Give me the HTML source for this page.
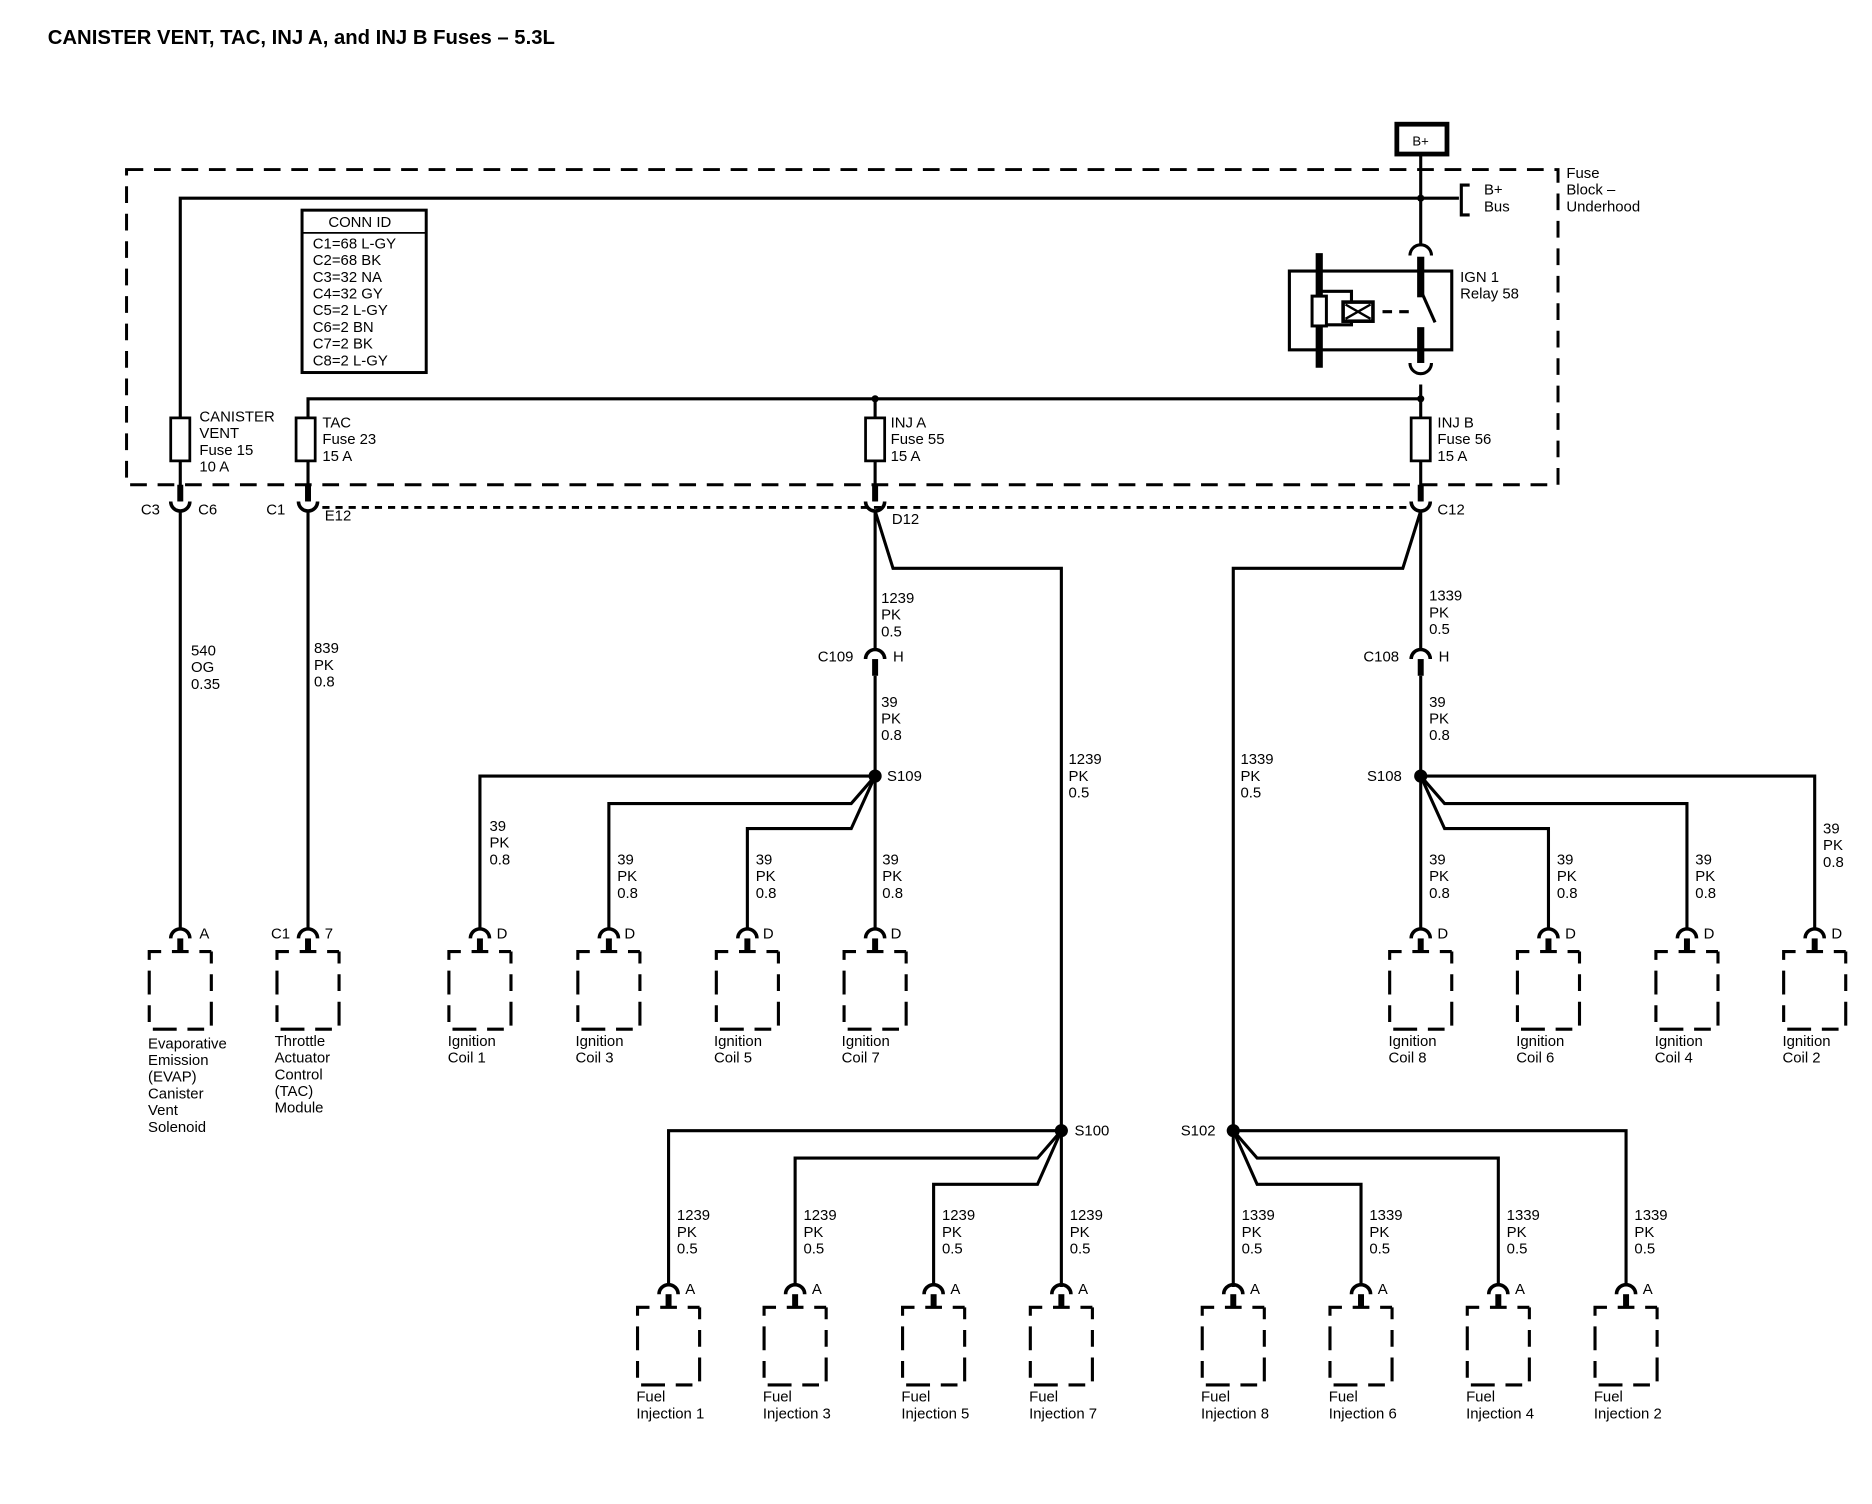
<!DOCTYPE html>
<html><head><meta charset="utf-8"><style>
html,body{margin:0;padding:0;background:#fff;width:1872px;height:1504px;overflow:hidden}
svg{display:block}
text{font-family:"Liberation Sans",sans-serif;font-size:12.5px;fill:#000}
.b{font-weight:bold}
</style></head><body>
<svg width="1872" height="1504" viewBox="0 0 1568 1259.7" xmlns="http://www.w3.org/2000/svg">
<defs>
<g id="mod"><path d="M-8,786 A8,8 0 0 1 8,786" fill="none" stroke="#000" stroke-width="3"/><rect x="-2.5" y="786" width="5" height="11" fill="#000"/><rect x="-26" y="797" width="52" height="65" fill="none" stroke="#000" stroke-width="2.6" stroke-dasharray="10 9 14 9 10 0"/></g>
<g id="cup"><rect x="-2.5" y="406" width="5" height="14" fill="#000"/><path d="M-8,420 A8,8 0 0 0 8,420" fill="none" stroke="#000" stroke-width="3"/></g>
<g id="cap"><path d="M-8,552 A8,8 0 0 1 8,552" fill="none" stroke="#000" stroke-width="3"/><rect x="-2.5" y="552" width="5" height="14" fill="#000"/></g>
</defs>
<text x="40" y="37" class="b" style="font-size:17px">CANISTER VENT, TAC, INJ A, and INJ B Fuses – 5.3L</text>

<rect x="1170" y="104" width="42" height="25" fill="none" stroke="#000" stroke-width="4"/>
<text x="1183" y="122" style="font-size:11px">B+</text>

<rect x="106" y="142" width="1199" height="264" fill="none" stroke="#000" stroke-width="2.5" stroke-dasharray="14 9"/>
<text x="1312" y="149">Fuse</text><text x="1312" y="163">Block –</text><text x="1312" y="177">Underhood</text>

<g stroke="#000" stroke-width="2.6" fill="none">
<path d="M151,420 V166 H1222"/>
<path d="M1231,155 H1224 V180 H1231"/>
<path d="M1190,130 V204"/>
<path d="M1181,214 A9,9 0 0 1 1199,214"/>
<path d="M258,420 V334 H1190"/>
<path d="M1190,322 V420"/>
<path d="M1181,304 A9,9 0 0 0 1199,304"/>
<path d="M733,334 V420"/>
<rect x="1080" y="227" width="136" height="66"/>
<path d="M1105,244 V272 M1105,244 H1132 V272 H1105"/>
<path d="M1158,261 H1166 M1172,261 H1180"/>
<path d="M1190,243 L1202,270"/>
</g>
<rect x="1187" y="215" width="6" height="34" fill="#000"/>
<rect x="1187" y="274" width="6" height="30" fill="#000"/>
<rect x="1102" y="212" width="6" height="96" fill="#000"/>
<rect x="1099" y="248" width="12" height="25" fill="#fff" stroke="#000" stroke-width="2.5"/>
<rect x="1125" y="253" width="25" height="16" fill="#fff" stroke="#000" stroke-width="3"/>
<path d="M1127,255 L1148,267 M1148,255 L1127,267" stroke="#000" stroke-width="2"/>
<circle cx="1190" cy="166" r="3" /><circle cx="1190" cy="334" r="3"/><circle cx="733" cy="334" r="3"/>
<text x="1243" y="163">B+</text><text x="1243" y="177">Bus</text>
<text x="1223" y="236">IGN 1</text><text x="1223" y="250">Relay 58</text>

<rect x="253" y="176" width="104" height="136" fill="none" stroke="#000" stroke-width="2.5"/>
<line x1="253" y1="195" x2="357" y2="195" stroke="#000" stroke-width="1.5"/>
<text x="275" y="190">CONN ID</text>
<text x="262" y="208">C1=68 L-GY</text><text x="262" y="222">C2=68 BK</text><text x="262" y="236">C3=32 NA</text><text x="262" y="250">C4=32 GY</text><text x="262" y="264">C5=2 L-GY</text><text x="262" y="278">C6=2 BN</text><text x="262" y="292">C7=2 BK</text><text x="262" y="306">C8=2 L-GY</text>

<g fill="#fff" stroke="#000" stroke-width="2.3">
<rect x="143" y="350" width="16" height="36"/><rect x="248" y="350" width="16" height="36"/>
<rect x="725" y="350" width="16" height="36"/><rect x="1182" y="350" width="16" height="36"/>
</g>
<text x="167" y="353">CANISTER</text><text x="167" y="367">VENT</text><text x="167" y="381">Fuse 15</text><text x="167" y="395">10 A</text>
<text x="270" y="358">TAC</text><text x="270" y="372">Fuse 23</text><text x="270" y="386">15 A</text>
<text x="746" y="358">INJ A</text><text x="746" y="372">Fuse 55</text><text x="746" y="386">15 A</text>
<text x="1204" y="358">INJ B</text><text x="1204" y="372">Fuse 56</text><text x="1204" y="386">15 A</text>

<line x1="270" y1="425" x2="1180" y2="425" stroke="#000" stroke-width="2.5" stroke-dasharray="6 5"/>
<use href="#cup" x="151"/><use href="#cup" x="258"/><use href="#cup" x="733"/><use href="#cup" x="1190"/>
<text x="118" y="431">C3</text><text x="166" y="431">C6</text>
<text x="223" y="431">C1</text><text x="272" y="436">E12</text>
<text x="747" y="439">D12</text><text x="1204" y="431">C12</text>

<g stroke="#000" stroke-width="2.6" fill="none">
<path d="M151,428 V778"/><path d="M258,428 V778"/>
<path d="M733,428 V544"/><path d="M733,566 V778"/>
<path d="M733,428 L748,476 H889 V1078"/>
<path d="M1190,428 V544"/><path d="M1190,566 V778"/>
<path d="M1190,428 L1175,476 H1033 V1078"/>
<path d="M733,650 H402 V778"/>
<path d="M733,650 L713,673 H510 V778"/>
<path d="M733,650 L713,694 H626 V778"/>
<path d="M1190,650 H1520 V778"/>
<path d="M1190,650 L1210,673 H1413 V778"/>
<path d="M1190,650 L1210,694 H1297 V778"/>
<path d="M889,947 H560 V1076"/>
<path d="M889,947 L869,970 H666 V1076"/>
<path d="M889,947 L869,992 H782 V1076"/>
<path d="M1033,947 H1362 V1076"/>
<path d="M1033,947 L1053,970 H1255 V1076"/>
<path d="M1033,947 L1053,992 H1140 V1076"/>
</g>
<circle cx="733" cy="650" r="5.5"/><circle cx="1190" cy="650" r="5.5"/>
<circle cx="889" cy="947" r="5.5"/><circle cx="1033" cy="947" r="5.5"/>
<text x="743" y="654">S109</text><text x="1145" y="654">S108</text>
<text x="900" y="951">S100</text><text x="989" y="951">S102</text>

<use href="#cap" x="733"/><use href="#cap" x="1190"/>
<text x="685" y="554">C109</text><text x="748" y="554">H</text>
<text x="1142" y="554">C108</text><text x="1205" y="554">H</text>

<text x="160" y="549">540</text><text x="160" y="563">OG</text><text x="160" y="577">0.35</text>
<text x="263" y="547">839</text><text x="263" y="561">PK</text><text x="263" y="575">0.8</text>
<text x="738" y="505">1239</text><text x="738" y="519">PK</text><text x="738" y="533">0.5</text>
<text x="738" y="592">39</text><text x="738" y="606">PK</text><text x="738" y="620">0.8</text>
<text x="1197" y="503">1339</text><text x="1197" y="517">PK</text><text x="1197" y="531">0.5</text>
<text x="1197" y="592">39</text><text x="1197" y="606">PK</text><text x="1197" y="620">0.8</text>
<text x="895" y="640">1239</text><text x="895" y="654">PK</text><text x="895" y="668">0.5</text>
<text x="1039" y="640">1339</text><text x="1039" y="654">PK</text><text x="1039" y="668">0.5</text>
<text x="410" y="696">39</text><text x="410" y="710">PK</text><text x="410" y="724">0.8</text>
<text x="517" y="724">39</text><text x="517" y="738">PK</text><text x="517" y="752">0.8</text>
<text x="633" y="724">39</text><text x="633" y="738">PK</text><text x="633" y="752">0.8</text>
<text x="739" y="724">39</text><text x="739" y="738">PK</text><text x="739" y="752">0.8</text>
<text x="1197" y="724">39</text><text x="1197" y="738">PK</text><text x="1197" y="752">0.8</text>
<text x="1304" y="724">39</text><text x="1304" y="738">PK</text><text x="1304" y="752">0.8</text>
<text x="1420" y="724">39</text><text x="1420" y="738">PK</text><text x="1420" y="752">0.8</text>
<text x="1527" y="698">39</text><text x="1527" y="712">PK</text><text x="1527" y="726">0.8</text>
<text x="567" y="1022">1239</text><text x="567" y="1036">PK</text><text x="567" y="1050">0.5</text>
<text x="673" y="1022">1239</text><text x="673" y="1036">PK</text><text x="673" y="1050">0.5</text>
<text x="789" y="1022">1239</text><text x="789" y="1036">PK</text><text x="789" y="1050">0.5</text>
<text x="896" y="1022">1239</text><text x="896" y="1036">PK</text><text x="896" y="1050">0.5</text>
<text x="1040" y="1022">1339</text><text x="1040" y="1036">PK</text><text x="1040" y="1050">0.5</text>
<text x="1147" y="1022">1339</text><text x="1147" y="1036">PK</text><text x="1147" y="1050">0.5</text>
<text x="1262" y="1022">1339</text><text x="1262" y="1036">PK</text><text x="1262" y="1050">0.5</text>
<text x="1369" y="1022">1339</text><text x="1369" y="1036">PK</text><text x="1369" y="1050">0.5</text>

<use href="#mod" x="151"/><use href="#mod" x="258"/><use href="#mod" x="402"/><use href="#mod" x="510"/>
<use href="#mod" x="626"/><use href="#mod" x="733"/><use href="#mod" x="1190"/><use href="#mod" x="1297"/>
<use href="#mod" x="1413"/><use href="#mod" x="1520"/>
<text x="167" y="786">A</text><text x="227" y="786">C1</text><text x="272" y="786">7</text>
<text x="416" y="786">D</text><text x="523" y="786">D</text><text x="639" y="786">D</text><text x="746" y="786">D</text>
<text x="1204" y="786">D</text><text x="1311" y="786">D</text><text x="1427" y="786">D</text><text x="1534" y="786">D</text>
<text x="124" y="878">Evaporative</text><text x="124" y="892">Emission</text><text x="124" y="906">(EVAP)</text><text x="124" y="920">Canister</text><text x="124" y="934">Vent</text><text x="124" y="948">Solenoid</text>
<text x="230" y="876">Throttle</text><text x="230" y="890">Actuator</text><text x="230" y="904">Control</text><text x="230" y="918">(TAC)</text><text x="230" y="932">Module</text>
<text x="375" y="876">Ignition</text><text x="375" y="890">Coil 1</text>
<text x="482" y="876">Ignition</text><text x="482" y="890">Coil 3</text>
<text x="598" y="876">Ignition</text><text x="598" y="890">Coil 5</text>
<text x="705" y="876">Ignition</text><text x="705" y="890">Coil 7</text>
<text x="1163" y="876">Ignition</text><text x="1163" y="890">Coil 8</text>
<text x="1270" y="876">Ignition</text><text x="1270" y="890">Coil 6</text>
<text x="1386" y="876">Ignition</text><text x="1386" y="890">Coil 4</text>
<text x="1493" y="876">Ignition</text><text x="1493" y="890">Coil 2</text>

<g transform="translate(0,298)">
<use href="#mod" x="560"/><use href="#mod" x="666"/><use href="#mod" x="782"/><use href="#mod" x="889"/>
<use href="#mod" x="1033"/><use href="#mod" x="1140"/><use href="#mod" x="1255"/><use href="#mod" x="1362"/>
<text x="574" y="786">A</text><text x="680" y="786">A</text><text x="796" y="786">A</text><text x="903" y="786">A</text>
<text x="1047" y="786">A</text><text x="1154" y="786">A</text><text x="1269" y="786">A</text><text x="1376" y="786">A</text>
<text x="533" y="876">Fuel</text><text x="533" y="890">Injection 1</text>
<text x="639" y="876">Fuel</text><text x="639" y="890">Injection 3</text>
<text x="755" y="876">Fuel</text><text x="755" y="890">Injection 5</text>
<text x="862" y="876">Fuel</text><text x="862" y="890">Injection 7</text>
<text x="1006" y="876">Fuel</text><text x="1006" y="890">Injection 8</text>
<text x="1113" y="876">Fuel</text><text x="1113" y="890">Injection 6</text>
<text x="1228" y="876">Fuel</text><text x="1228" y="890">Injection 4</text>
<text x="1335" y="876">Fuel</text><text x="1335" y="890">Injection 2</text>
</g>
</svg>
</body></html>
